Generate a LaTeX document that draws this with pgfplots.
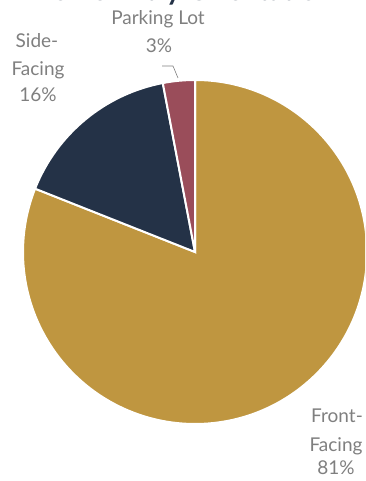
\documentclass[border=0pt]{standalone}
\usepackage{pgfplots}
\pgfplotsset{compat=1.18}
\usepackage{pgfplotstable}
\usepackage{fontspec}
\setmainfont{Lato}

\definecolor{gold}{HTML}{BF9640}
\definecolor{navy}{HTML}{243247}
\definecolor{wine}{HTML}{9A4D5A}
\definecolor{labelgray}{HTML}{7F7F7F}

% shares in percent, clockwise from 12 o'clock
\pgfplotstableread{
name    share
Front   81
Side    16
Parking 3
}\piedata

\begin{document}
\begin{tikzpicture}
\useasboundingbox (0,0) rectangle (365pt,481pt);
\clip (0,0) rectangle (365pt,481pt);

\pgfplotstablegetelem{0}{share}\of\piedata \pgfmathsetmacro\sa{\pgfplotsretval}
\pgfplotstablegetelem{1}{share}\of\piedata \pgfmathsetmacro\sb{\pgfplotsretval}
\pgfplotstablegetelem{2}{share}\of\piedata \pgfmathsetmacro\sc{\pgfplotsretval}
\pgfmathsetmacro\aA{90-3.6*\sa}
\pgfmathsetmacro\aB{\aA-3.6*\sb}
\pgfmathsetmacro\aC{\aB-3.6*\sc}

\begin{axis}[
    x=1pt, y=1pt,
    xmin=0, xmax=365, ymin=0, ymax=481,
    anchor=origin, at={(0,0)},
    hide axis, clip=false,
]
\def\cx{195}\def\cy{229}\def\R{172pt}
\fill[gold, draw=white, line width=2pt]
  (axis cs:\cx,\cy) -- ++(90:\R) arc[start angle=90, end angle=\aA, radius=\R] -- cycle;
\fill[navy, draw=white, line width=2pt]
  (axis cs:\cx,\cy) -- ++(\aA:\R) arc[start angle=\aA, end angle=\aB, radius=\R] -- cycle;
\fill[wine, draw=white, line width=2pt]
  (axis cs:\cx,\cy) -- ++(\aB:\R) arc[start angle=\aB, end angle=\aC, radius=\R] -- cycle;

% leader line for the small slice
\draw[labelgray, line width=0.6pt] (axis cs:162,415) -- (axis cs:173,415) -- (axis cs:178,403);

\tikzset{lbl/.style={anchor=base, text=labelgray, font=\fontsize{19}{27}\selectfont, inner sep=0pt}}
\node[lbl] at (axis cs:158,456) {Parking Lot};
\node[lbl] at (axis cs:159,428) {3\%};
\node[lbl] at (axis cs:37,433) {Side-};
\node[lbl] at (axis cs:38,405) {Facing};
\node[lbl] at (axis cs:38,379) {16\%};
\node[lbl] at (axis cs:337,58) {Front-};
\node[lbl] at (axis cs:336,29) {Facing};
\node[lbl] at (axis cs:336,6) {81\%};

% title, cut off at the top edge as in the source
\node[anchor=base, text=navy, font=\bfseries\fontsize{28}{30}\selectfont, inner sep=0pt]
  at (axis cs:182,480) {Home Entry Orientation};
\end{axis}
\end{tikzpicture}
\end{document}
